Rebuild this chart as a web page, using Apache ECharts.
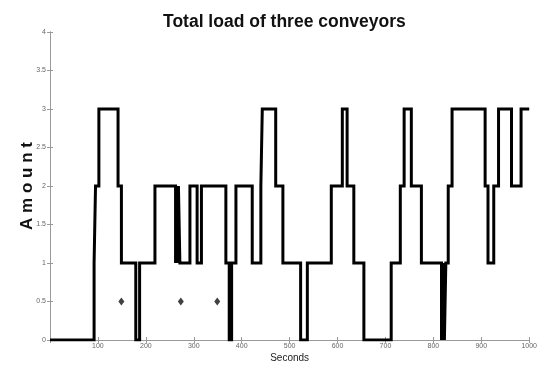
<!DOCTYPE html>
<html>
<head>
<meta charset="utf-8">
<script src="https://cdn.jsdelivr.net/npm/echarts@6/dist/echarts.min.js"></script>
<style>html,body{margin:0;padding:0;background:#fff}#c{width:540px;height:368px}</style>
</head>
<body>
<div id="c"></div>
<script>
// Step-change times (seconds) and the total load held from each time on
var times   = [0, 92, 95, 102, 142, 149, 179, 187, 219, 262, 264, 266, 268, 271, 292, 307, 316, 367, 374, 379, 388, 422, 440, 443, 471, 486, 523, 537, 587, 610, 620, 634, 655, 712, 731, 739, 754, 775, 817, 821, 823, 826, 831, 839, 908, 914, 926, 936, 963, 983, 1000];
var amounts = [0, 1, 2, 3, 2, 1, 0, 1, 2, 1, 2, 1, 2, 1, 2, 1, 2, 1, 0, 1, 2, 1, 2, 3, 2, 1, 0, 1, 2, 3, 2, 1, 0, 1, 2, 3, 2, 1, 0, 1, 0, 1, 2, 3, 2, 1, 2, 3, 2, 3, 3];
// Isolated markers
var markerTimes  = [149, 273, 349];
var markerValues = [0.5, 0.5, 0.5];
// Axis ticks
var xTicks = [100, 200, 300, 400, 500, 600, 700, 800, 900, 1000];
var yTicks = [0, 0.5, 1, 1.5, 2, 2.5, 3, 3.5, 4];

var lineData = times.map(function (t, i) { return [t, amounts[i]]; });
var markData = markerTimes.map(function (t, i) { return [t, markerValues[i]]; });

var axisGray = '#9a9a9a';
var labelGray = '#666';
var font = 'Liberation Sans, Arial, sans-serif';
var chart = echarts.init(document.getElementById('c'), null, {renderer: 'canvas'});
chart.setOption({
  animation: false,
  backgroundColor: '#fff',
  title: {
    text: 'Total load of three conveyors',
    left: 158, top: 8,
    textStyle: {fontFamily: font, fontSize: 17.5, fontWeight: 'bold', color: '#111'}
  },
  grid: {left: 50, right: 10, top: 32, bottom: 25, containLabel: false},
  xAxis: [{
    type: 'value', min: 0, max: 1000, interval: 100, position: 'bottom',
    name: 'Seconds', nameLocation: 'middle', nameGap: 13, nameMoveOverlap: false,
    nameTextStyle: {fontFamily: font, fontSize: 10, color: '#222'},
    axisLine: {show: true, lineStyle: {color: axisGray, width: 1}},
    axisTick: {show: true, inside: true, length: 3, lineStyle: {color: axisGray}},
    axisLabel: {fontSize: 7, color: labelGray, margin: 3, fontFamily: font,
      formatter: function (v) { return xTicks.indexOf(v) >= 0 ? String(v) : ''; }},
    splitLine: {show: false}
  }, {
    type: 'value', min: 0, max: 1000, interval: 100, position: 'top',
    axisLine: {show: true, lineStyle: {color: axisGray, width: 1}},
    axisTick: {show: true, inside: true, length: 3, lineStyle: {color: axisGray}},
    axisLabel: {show: false}, splitLine: {show: false}
  }],
  yAxis: [{
    type: 'value', min: 0, max: 4, interval: 0.5, position: 'left',
    name: 'A m o u n t', nameLocation: 'middle', nameGap: 14, nameMoveOverlap: false,
    nameTextStyle: {fontFamily: font, fontSize: 17, fontWeight: 'bold', color: '#111'},
    axisLine: {show: true, lineStyle: {color: axisGray, width: 1}},
    axisTick: {show: true, inside: true, length: 3, lineStyle: {color: axisGray}},
    axisLabel: {fontSize: 7, color: labelGray, margin: 4, fontFamily: font,
      formatter: function (v) { return yTicks.indexOf(v) >= 0 ? String(v) : ''; }},
    splitLine: {show: false}
  }, {
    type: 'value', min: 0, max: 4, interval: 0.5, position: 'right',
    axisLine: {show: true, lineStyle: {color: axisGray, width: 1}},
    axisTick: {show: true, inside: true, length: 3, lineStyle: {color: axisGray}},
    axisLabel: {show: false}, splitLine: {show: false}
  }],
  series: [{
    type: 'line', step: 'end', data: lineData, xAxisIndex: 0, yAxisIndex: 0,
    showSymbol: false, symbol: 'none',
    lineStyle: {color: '#000', width: 3, join: 'miter'},
    z: 3
  }, {
    type: 'scatter', data: markData, xAxisIndex: 0, yAxisIndex: 0,
    symbol: 'diamond', symbolSize: [6, 8],
    itemStyle: {color: '#111'}, z: 4
  }]
});
</script>
</body>
</html>
